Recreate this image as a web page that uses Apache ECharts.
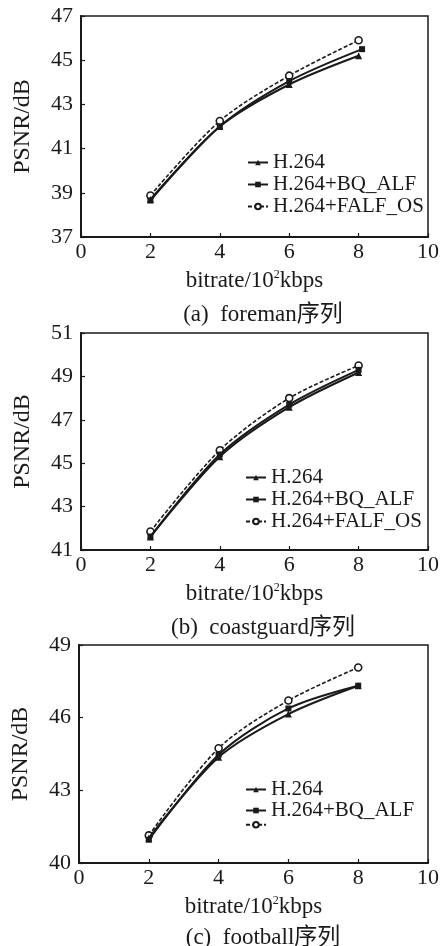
<!DOCTYPE html>
<html>
<head>
<meta charset="utf-8">
<script src="https://cdn.jsdelivr.net/npm/echarts@6/dist/echarts.min.js"></script>
<style>html,body{margin:0;padding:0;background:#fff}#c{width:442px;height:946px}</style>
</head>
<body>
<div id="c"></div>
<script>
var seriesNames = ['H.264', 'H.264+BQ_ALF', 'H.264+FALF_OS'];
var bitrates = [2, 4, 6, 8];
var bitratesForemanBQ = [2, 4, 6, 8.1];

var foremanH264 = [38.7, 42.0, 43.9, 45.2];
var foremanBQ = [38.65, 42.0, 44.05, 45.5];
var foremanFALF = [38.88, 42.25, 44.3, 45.9];

var coastH264 = [41.6, 45.3, 47.58, 49.18];
var coastBQ = [41.62, 45.4, 47.7, 49.3];
var coastFALF = [41.85, 45.6, 48.0, 49.5];

var footH264 = [41.03, 44.37, 46.15, 47.32];
var footBQ = [40.96, 44.47, 46.38, 47.32];
var footFALF = [41.14, 44.74, 46.71, 48.07];

var captions = ['(a)  foreman序列', '(b)  coastguard序列', '(c)  football序列'];
var yRanges = [[37, 47, 2], [41, 51, 2], [40, 49, 3]];
var xRange = [0, 10, 2];

var SERIF = '"Liberation Serif", "DejaVu Serif", "Noto Sans CJK SC", serif';
var INK = '#1a1a1a';

function pairs(xs, ys) { return ys.map(function (y, i) { return [xs[i], y]; }); }

var grids = [
  {left: 81, right: 13, top: 16, height: 221},
  {left: 81, right: 13, top: 333, height: 217},
  {left: 79, right: 14, top: 645, height: 218}
];
var captionTops = [298, 611, 921];
var legendTops = [[247, 152, 1], [245, 467, 1], [245, 779, 0]];

var panels = [
  [pairs(bitrates, foremanH264), pairs(bitratesForemanBQ, foremanBQ), pairs(bitrates, foremanFALF)],
  [pairs(bitrates, coastH264), pairs(bitrates, coastBQ), pairs(bitrates, coastFALF)],
  [pairs(bitrates, footH264), pairs(bitrates, footBQ), pairs(bitrates, footFALF)]
];

var symbols = ['triangle', 'rect', 'circle'];
var symbolSizes = [7, 6, 7];

var option = {
  animation: false,
  backgroundColor: '#fff',
  textStyle: {fontFamily: SERIF, color: INK},
  grid: grids.map(function (g) {
    return Object.assign({show: true, borderColor: INK, borderWidth: 1.5, backgroundColor: 'transparent'}, g);
  }),
  title: captions.map(function (t, i) {
    return {text: t, left: 258, textAlign: 'center', top: captionTops[i],
      textStyle: {fontFamily: SERIF, fontSize: 23, fontWeight: 'normal', color: INK}};
  }),
  legend: [0, 1, 2].map(function (i) {
    return {
      orient: 'vertical', left: legendTops[i][0], top: legendTops[i][1], itemGap: legendTops[i][2],
      itemWidth: 20, itemHeight: 7, padding: 0,
      data: seriesNames,
      formatter: function (name) { return (i === 2 && name === 'H.264+FALF_OS') ? '' : name; },
      textStyle: {fontFamily: SERIF, fontSize: 21, lineHeight: 21, color: INK, padding: [0, 0, 0, 0]}
    };
  }),
  xAxis: [0, 1, 2].map(function (i) {
    return {
      gridIndex: i, type: 'value', min: xRange[0], max: xRange[1], interval: xRange[2],
      name: 'bitrate/10{sup|2}kbps', nameLocation: 'middle', nameGap: 32,
      nameTextStyle: {fontFamily: SERIF, fontSize: 23, color: INK,
        rich: {sup: {fontFamily: SERIF, fontSize: 12, color: INK, verticalAlign: 'top', padding: [0, 0, 10, 0]}}},
      axisLine: {show: true, lineStyle: {color: INK, width: 2}},
      axisTick: {show: true, inside: true, length: 4, lineStyle: {color: INK, width: 1.2}},
      axisLabel: {fontFamily: SERIF, fontSize: 22, color: INK, margin: 4},
      splitLine: {show: false}
    };
  }),
  yAxis: [0, 1, 2].map(function (i) {
    return {
      gridIndex: i, type: 'value', min: yRanges[i][0], max: yRanges[i][1], interval: yRanges[i][2],
      name: 'PSNR/dB', nameLocation: 'middle', nameGap: 46, nameRotate: 90,
      nameTextStyle: {fontFamily: SERIF, fontSize: 24, color: INK},
      axisLine: {show: true, lineStyle: {color: INK, width: 2}},
      axisTick: {show: true, inside: true, length: 4, lineStyle: {color: INK, width: 1.2}},
      axisLabel: {fontFamily: SERIF, fontSize: 22, color: INK, margin: 8},
      splitLine: {show: false}
    };
  }),
  series: []
};

panels.forEach(function (p, gi) {
  p.forEach(function (data, si) {
    option.series.push({
      name: seriesNames[si], type: 'line', xAxisIndex: gi, yAxisIndex: gi,
      data: data, smooth: 0.3,
      symbol: symbols[si], symbolSize: symbolSizes[si], showAllSymbol: true,
      lineStyle: {color: INK, width: si === 2 ? 1.6 : 2, type: si === 2 ? [4, 2] : 'solid'},
      itemStyle: {color: si === 2 ? '#fff' : INK, borderColor: INK, borderWidth: si === 2 ? 1.6 : 0},
      z: 3 - si
    });
  });
});

var chart = echarts.init(document.getElementById('c'), null, {renderer: 'canvas'});
chart.setOption(option);
</script>
</body>
</html>
